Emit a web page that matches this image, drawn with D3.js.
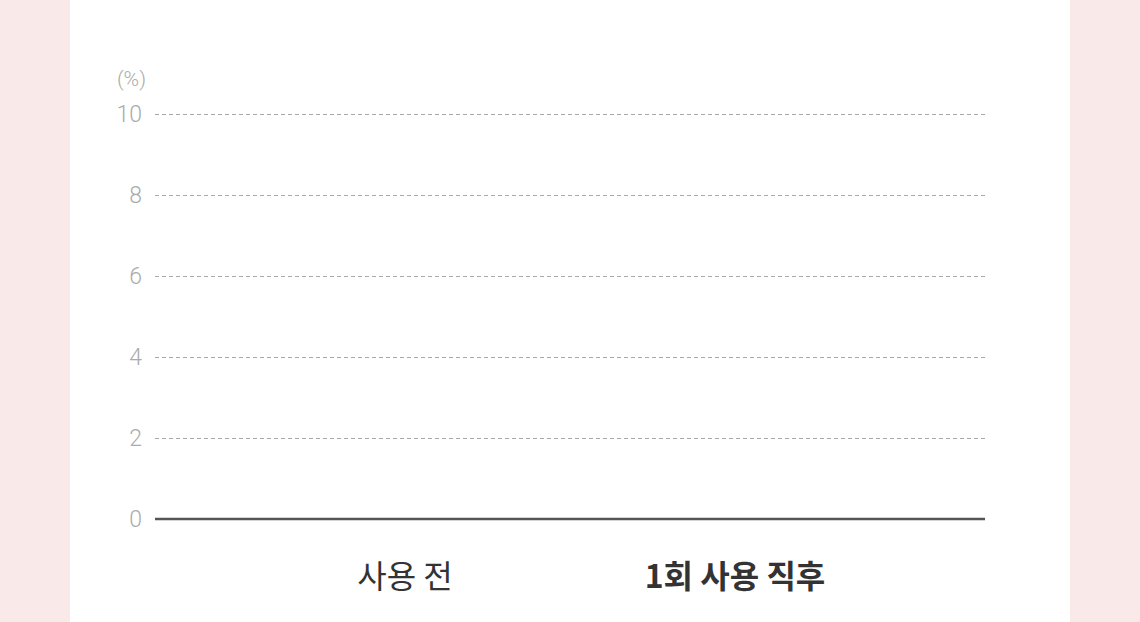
<!DOCTYPE html>
<html>
<head>
<meta charset="utf-8">
<script src="https://cdn.jsdelivr.net/npm/d3@7"></script>
<style>
  html, body { margin: 0; padding: 0; background: #f9e9e9; }
  #panel { position: absolute; left: 70px; top: 0; width: 1000px; height: 622px; background: #fff; }
  svg { position: absolute; left: 0; top: 0; }
  text { font-family: "Noto Sans CJK KR", "Noto Sans", sans-serif; }
</style>
</head>
<body>
<div id="panel"></div>
<svg width="1140" height="622"></svg>
<script>
// chart data
var categories = ["사용 전", "1회 사용 직후"];
var values = [0, 0];
var yTicks = [0, 2, 4, 6, 8, 10];
var unitLabel = "(%)";

var svg = d3.select("svg"),
    margin = {top: 114, right: 155, bottom: 103, left: 155},
    width = +svg.attr("width") - margin.left - margin.right,
    height = +svg.attr("height") - margin.top - margin.bottom,
    g = svg.append("g").attr("transform", "translate(" + margin.left + "," + margin.top + ")");

var x = d3.scaleBand().domain(categories).range([0, width]).paddingInner(0.6).paddingOuter(0.5576);
var y = d3.scaleLinear().domain([0, 10]).range([height, 0]);

// gridlines
g.append("g").selectAll("line").data(yTicks.filter(function(d) { return d > 0; })).enter().append("line")
    .attr("x1", 0).attr("x2", width)
    .attr("y1", function(d) { return y(d) + 0.5; })
    .attr("y2", function(d) { return y(d) + 0.5; })
    .attr("stroke", "#aaa").attr("stroke-width", 1).attr("stroke-dasharray", "4,3");

// y tick labels
var yAxis = g.append("g").call(d3.axisLeft(y).tickValues(yTicks).tickSize(0).tickPadding(13));
yAxis.select(".domain").remove();
yAxis.selectAll("text").attr("fill", "#ababab").style("font-size", "23px").style("font-weight", 300)
    .style("font-family", "Roboto, 'Noto Sans', sans-serif");

g.append("text").attr("x", -9).attr("y", y(10) - 35).attr("dy", "0.35em").attr("text-anchor", "end")
    .attr("fill", "#ababab").style("font-size", "21px").style("font-weight", 300)
    .style("font-family", "Roboto, 'Noto Sans', sans-serif")
    .text(unitLabel);

// bars
g.selectAll(".bar").data(values).enter().append("rect").attr("class", "bar")
    .attr("x", function(d, i) { return x(categories[i]); })
    .attr("y", function(d) { return y(d); })
    .attr("width", x.bandwidth())
    .attr("height", function(d) { return height - y(d); })
    .attr("fill", function(d, i) { return i == 1 ? "#e8a0a0" : "#d9d9d9"; });

// baseline
g.append("line").attr("x1", 0).attr("x2", width).attr("y1", y(0)).attr("y2", y(0))
    .attr("stroke", "#555").attr("stroke-width", 2.5);

// x labels
var xAxis = g.append("g").attr("transform", "translate(0," + height + ")")
    .call(d3.axisBottom(x).tickSize(0));
xAxis.select(".domain").remove();
xAxis.selectAll("text").attr("fill", "#333").style("font-size", "32px")
    .style("font-weight", function(d, i) { return i == 1 ? 700 : 400; })
    .attr("dy", "0.35em").attr("y", 58);
</script>
</body>
</html>
